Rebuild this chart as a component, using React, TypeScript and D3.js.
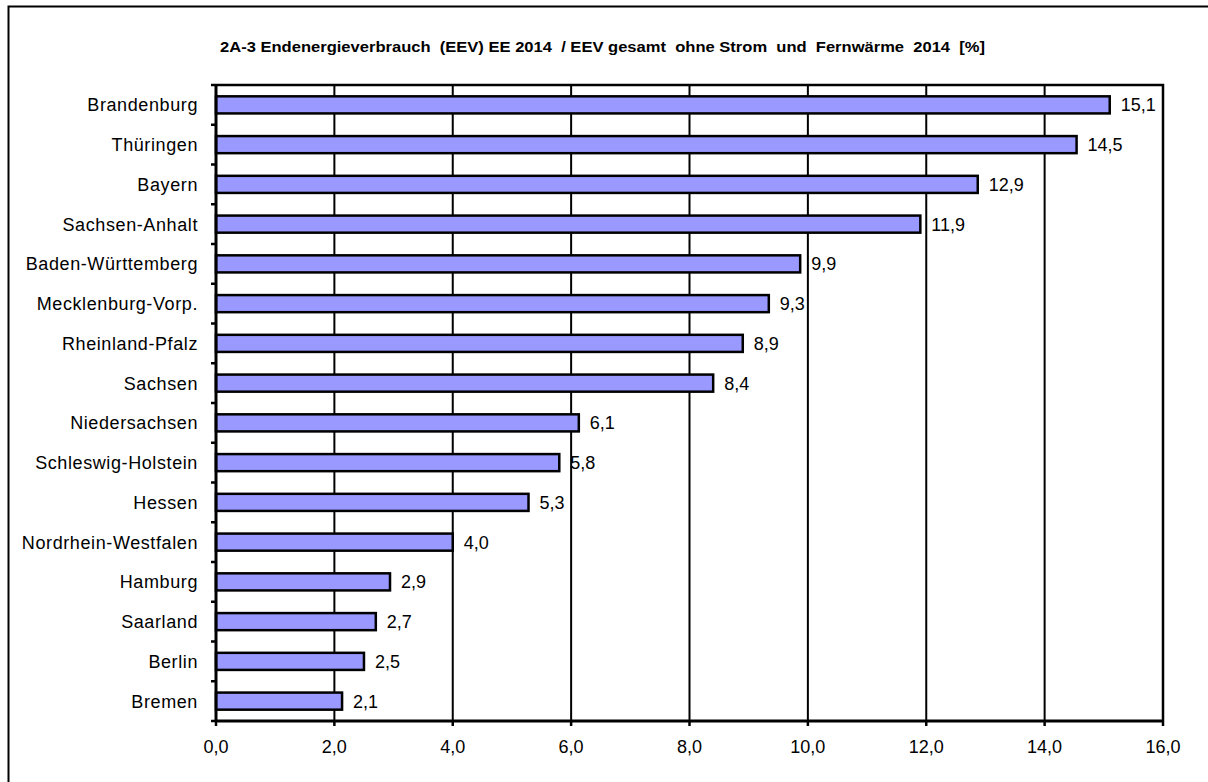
import React, { useEffect, useRef } from 'react';
import * as d3 from 'd3';

const categories = [
  'Brandenburg', 'Thüringen', 'Bayern', 'Sachsen-Anhalt', 'Baden-Württemberg',
  'Mecklenburg-Vorp.', 'Rheinland-Pfalz', 'Sachsen', 'Niedersachsen', 'Schleswig-Holstein',
  'Hessen', 'Nordrhein-Westfalen', 'Hamburg', 'Saarland', 'Berlin', 'Bremen',
];
const values = [15.1, 14.54, 12.87, 11.9, 9.87, 9.34, 8.9, 8.4, 6.13, 5.8, 5.28, 4.0, 2.94, 2.7, 2.5, 2.13];
const xTicks = [0, 2, 4, 6, 8, 10, 12, 14, 16];
const title = '2A-3 Endenergieverbrauch  (EEV) EE 2014  / EEV gesamt  ohne Strom  und  Fernwärme  2014  [%]';

const App = () => {
  const ref = useRef<SVGSVGElement>(null);

  useEffect(() => {
    const svg = d3.select(ref.current);
    svg.selectAll('*').remove();

    const W = 1208, H = 782;
    const left = 216, right = 1163, top = 85, bottom = 721;
    const font = 'Arial, "Liberation Sans", sans-serif';
    const de = d3.formatLocale({ decimal: ',', thousands: '.', grouping: [3], currency: ['', '€'] });
    const fmt = de.format('.1f');

    const data = categories.map((c, i) => ({ name: c, value: values[i] }));

    const x = d3.scaleLinear().domain([0, 16]).range([left, right]);
    const y = d3.scaleBand<string>().domain(categories).range([top, bottom])
      .paddingInner(0.57).paddingOuter(0.285);

    svg.append('rect').attr('width', W).attr('height', H).attr('fill', '#fff');

    // äußerer Rahmen (nur oben/links sichtbar)
    svg.append('rect')
      .attr('x', 8.5).attr('y', 6.5).attr('width', 1300).attr('height', 900)
      .attr('fill', 'none').attr('stroke', '#000').attr('stroke-width', 2);

    // Titel
    svg.append('text')
      .attr('x', 220).attr('y', 52)
      .attr('font-family', font).attr('font-size', 14.5).attr('font-weight', 'bold')
      .attr('xml:space', 'preserve')
      .attr('textLength', 765)
      .attr('lengthAdjust', 'spacingAndGlyphs')
      .style('white-space', 'pre')
      .text(title);

    // Gitternetzlinien
    svg.append('g').selectAll('line')
      .data(xTicks.slice(1, -1))
      .join('line')
      .attr('x1', d => x(d)).attr('x2', d => x(d))
      .attr('y1', top).attr('y2', bottom)
      .attr('stroke', '#000').attr('stroke-width', 2);

    // Rahmen Zeichnungsfläche oben/rechts
    svg.append('path')
      .attr('d', `M${left},${top}H${right}V${bottom}`)
      .attr('fill', 'none').attr('stroke', '#000').attr('stroke-width', 2.5);

    // Balken
    svg.append('g').selectAll('rect')
      .data(data)
      .join('rect')
      .attr('x', x(0))
      .attr('y', d => y(d.name)!)
      .attr('width', d => x(d.value) - x(0))
      .attr('height', y.bandwidth())
      .attr('fill', '#9999ff')
      .attr('stroke', '#000').attr('stroke-width', 2.5);

    // Datenbeschriftung
    svg.append('g').selectAll('text')
      .data(data)
      .join('text')
      .attr('x', d => x(d.value) + 11)
      .attr('y', d => y(d.name)! + y.bandwidth() / 2)
      .attr('dy', '0.36em')
      .attr('font-family', font).attr('font-size', 18).attr('fill', '#000')
      .text(d => fmt(d.value));

    // y-Achse
    const step = y.step();
    const yt = d3.range(categories.length + 1).map(i => top + i * step);
    const ya = svg.append('g');
    ya.selectAll('line.tick')
      .data(yt)
      .join('line')
      .attr('class', 'tick')
      .attr('x1', left - 5).attr('x2', left)
      .attr('y1', d => d).attr('y2', d => d)
      .attr('stroke', '#000').attr('stroke-width', 2.5);
    ya.append('line')
      .attr('x1', left).attr('x2', left).attr('y1', top - 1).attr('y2', bottom + 1)
      .attr('stroke', '#000').attr('stroke-width', 3);
    ya.selectAll('text')
      .data(categories)
      .join('text')
      .attr('x', 198)
      .attr('y', d => y(d)! + y.bandwidth() / 2)
      .attr('dy', '0.36em')
      .attr('text-anchor', 'end')
      .attr('letter-spacing', 0.6)
      .attr('font-family', font).attr('font-size', 18).attr('fill', '#000')
      .text(d => d);

    // x-Achse
    const xa = svg.append('g');
    xa.selectAll('line.tick')
      .data(xTicks)
      .join('line')
      .attr('class', 'tick')
      .attr('x1', d => x(d)).attr('x2', d => x(d))
      .attr('y1', bottom).attr('y2', bottom + 5)
      .attr('stroke', '#000').attr('stroke-width', 2.5);
    xa.append('line')
      .attr('x1', left - 1).attr('x2', right + 1).attr('y1', bottom).attr('y2', bottom)
      .attr('stroke', '#000').attr('stroke-width', 3);
    xa.selectAll('text')
      .data(xTicks)
      .join('text')
      .attr('x', d => x(d))
      .attr('y', 753)
      .attr('text-anchor', 'middle')
      .attr('font-family', font).attr('font-size', 18).attr('fill', '#000')
      .text(d => fmt(d));
  }, []);

  return (
    <svg
      ref={ref}
      width={1208}
      height={782}
      style={{ position: 'absolute', left: 0, top: 0, display: 'block' }}
    />
  );
};

export default App;
